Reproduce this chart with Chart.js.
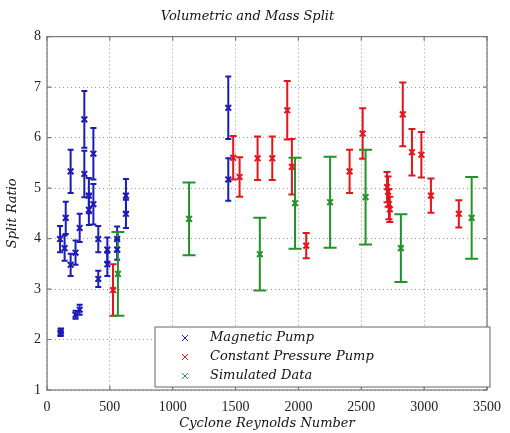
<!DOCTYPE html>
<html>
<head>
<meta charset="utf-8">
<script src="https://cdn.jsdelivr.net/npm/chart.js@4.4.1/dist/chart.umd.min.js"></script>
<style>
  html, body { margin: 0; padding: 0; background: #fff; }
  #wrap { width: 510px; height: 433px; }
</style>
</head>
<body>
<div id="wrap"><canvas id="mycanvas" width="510" height="433"></canvas></div>
<script>
// magnetic pump
var magX   = [108, 110, 104, 140, 149, 188, 188, 227, 227, 260, 260, 297, 297, 333, 333, 369, 369, 408, 408, 480, 480, 558, 558, 628, 628, 1442, 1442];
var magY   = [2.12, 2.17, 3.99, 3.81, 4.41, 5.33, 3.48, 3.72, 2.49, 2.59, 4.21, 6.36, 5.28, 4.85, 4.57, 5.68, 4.68, 3.99, 3.20, 3.78, 3.49, 3.99, 3.78, 4.85, 4.49, 6.59, 5.17];
var magErr = [0.05, 0.05, 0.26, 0.25, 0.32, 0.43, 0.22, 0.24, 0.08, 0.10, 0.28, 0.56, 0.46, 0.35, 0.30, 0.51, 0.40, 0.26, 0.16, 0.24, 0.23, 0.25, 0.20, 0.33, 0.28, 0.62, 0.42];

// constant pressure pump
var cppX   = [525, 1481, 1532, 1675, 1792, 1911, 1948, 2062, 2407, 2511, 2705, 2713, 2720, 2727, 2830, 2903, 2978, 3054, 3276];
var cppY   = [2.98, 5.60, 5.22, 5.59, 5.59, 6.54, 5.42, 3.86, 5.33, 6.08, 5.02, 4.93, 4.68, 4.58, 6.46, 5.71, 5.66, 4.85, 4.49];
var cppErr = [0.51, 0.43, 0.39, 0.43, 0.43, 0.58, 0.55, 0.25, 0.43, 0.50, 0.30, 0.30, 0.30, 0.25, 0.63, 0.46, 0.45, 0.34, 0.27];

// simulated
var simX   = [564, 1130, 1693, 1973, 2252, 2534, 2815, 3378];
var simY   = [3.30, 4.39, 3.69, 4.70, 4.72, 4.82, 3.81, 4.41];
var simErr = [0.83, 0.72, 0.72, 0.90, 0.90, 0.94, 0.67, 0.81];

var xTicks = [0, 500, 1000, 1500, 2000, 2500, 3000, 3500];
var yTicks = [1, 2, 3, 4, 5, 6, 7, 8];

var blue = '#1c1cb4', red = '#e2161c', green = '#24922a';

function pts(xs, ys, es) {
    var out = [];
    for (var i = 0; i < xs.length; i++) out.push({x: xs[i], y: ys[i], e: es[i]});
    return out;
}

var serifIt = "'DejaVu Serif', serif";

var errorBars = {
    id: 'errorBars',
    beforeDatasetsDraw: function(chart) {
        var ctx = chart.ctx, xs = chart.scales.x, ys = chart.scales.y;
        chart.data.datasets.forEach(function(ds) {
            ctx.save();
            ctx.strokeStyle = ds.borderColor;
            ctx.lineWidth = 2;
            ds.data.forEach(function(p) {
                var px = xs.getPixelForValue(p.x);
                var top = ys.getPixelForValue(p.y + p.e);
                var bot = ys.getPixelForValue(p.y - p.e);
                ctx.beginPath();
                ctx.moveTo(px, top); ctx.lineTo(px, bot);
                ctx.moveTo(px - ds.capSize, top); ctx.lineTo(px + ds.capSize, top);
                ctx.moveTo(px - ds.capSize, bot); ctx.lineTo(px + ds.capSize, bot);
                ctx.stroke();
            });
            ctx.restore();
        });
    }
};

var frame = {
    id: 'frame',
    afterDraw: function(chart) {
        var ctx = chart.ctx, a = chart.chartArea, xs = chart.scales.x, ys = chart.scales.y;
        ctx.save();
        ctx.strokeStyle = '#777';
        ctx.lineWidth = 1.2;
        ctx.strokeRect(a.left, a.top, a.right - a.left, a.bottom - a.top);
        // inward ticks like the original
        ctx.beginPath();
        xTicks.forEach(function(v) {
            var px = xs.getPixelForValue(v);
            ctx.moveTo(px, a.top); ctx.lineTo(px, a.top + 4);
            ctx.moveTo(px, a.bottom); ctx.lineTo(px, a.bottom - 4);
        });
        yTicks.forEach(function(v) {
            var py = ys.getPixelForValue(v);
            ctx.moveTo(a.left, py); ctx.lineTo(a.left + 4, py);
            ctx.moveTo(a.right, py); ctx.lineTo(a.right - 4, py);
        });
        ctx.stroke();

        // legend box, lower right
        var bx = 155, by = 327, bw = 335, bh = 60;
        ctx.fillStyle = '#fff';
        ctx.fillRect(bx, by, bw, bh);
        ctx.strokeStyle = '#666';
        ctx.lineWidth = 1;
        ctx.strokeRect(bx, by, bw, bh);
        ctx.font = 'italic 13px ' + serifIt;
        ctx.textBaseline = 'middle';
        chart.data.datasets.forEach(function(ds, i) {
            var ly = by + 11 + i * 19;
            ctx.strokeStyle = ds.borderColor;
            ctx.lineWidth = 1;
            ctx.beginPath();
            ctx.moveTo(182, ly - 3); ctx.lineTo(188, ly + 3);
            ctx.moveTo(188, ly - 3); ctx.lineTo(182, ly + 3);
            ctx.stroke();
            ctx.fillStyle = '#111';
            ctx.fillText(ds.label, 210, ly);
        });
        ctx.restore();
    }
};

var chartdata = {
    datasets: [
        {
            label: 'Magnetic Pump',
            data: pts(magX, magY, magErr),
            borderColor: blue,
            backgroundColor: blue,
            capSize: 3,
            pointStyle: 'crossRot',
            pointRadius: 4,
            pointBorderWidth: 2
        },
        {
            label: 'Constant Pressure Pump',
            data: pts(cppX, cppY, cppErr),
            borderColor: red,
            backgroundColor: red,
            capSize: 3.5,
            pointStyle: 'crossRot',
            pointRadius: 4,
            pointBorderWidth: 2
        },
        {
            label: 'Simulated Data',
            data: pts(simX, simY, simErr),
            borderColor: green,
            backgroundColor: green,
            capSize: 6.5,
            pointStyle: 'crossRot',
            pointRadius: 4,
            pointBorderWidth: 2
        }
    ]
};

var ctx = document.getElementById('mycanvas');

var ScatterGraph = new Chart(ctx, {
    type: 'scatter',
    data: chartdata,
    plugins: [errorBars, frame],
    options: {
        responsive: false,
        animation: false,
        layout: { padding: { left: 0, right: 15, top: 0, bottom: 0 } },
        plugins: {
            legend: { display: false },
            tooltip: { enabled: false },
            title: {
                display: true,
                text: 'Volumetric and Mass Split',
                color: '#111',
                font: { family: serifIt, size: 13, style: 'italic', weight: 'normal' },
                padding: { top: 9, bottom: 12 }
            }
        },
        scales: {
            x: {
                type: 'linear',
                min: 0, max: 3500,
                afterBuildTicks: function(s) { s.ticks = xTicks.map(function(v) { return {value: v}; }); },
                afterFit: function(s) { s.height = 43; },
                ticks: {
                    color: '#222', padding: 9,
                    font: { family: "'Liberation Serif', serif", size: 14 },
                    callback: function(v) { return String(v); }
                },
                grid: { color: '#999', lineWidth: 1, drawTicks: false },
                border: { display: false, dash: [1, 3] },
                title: {
                    display: true,
                    text: 'Cyclone Reynolds Number',
                    color: '#111',
                    font: { family: serifIt, size: 13, style: 'italic' },
                    padding: { top: 0, bottom: 2 }
                }
            },
            y: {
                type: 'linear',
                min: 1, max: 8,
                afterBuildTicks: function(s) { s.ticks = yTicks.map(function(v) { return {value: v}; }); },
                afterFit: function(s) { s.width = 47; },
                ticks: {
                    color: '#222', padding: 6,
                    font: { family: "'Liberation Serif', serif", size: 14 },
                    callback: function(v) { return String(v); }
                },
                grid: { color: '#999', lineWidth: 1, drawTicks: false },
                border: { display: false, dash: [1, 3] },
                title: {
                    display: true,
                    text: 'Split Ratio',
                    color: '#111',
                    font: { family: serifIt, size: 13, style: 'italic' },
                    padding: { top: 5, bottom: 2 }
                }
            }
        }
    }
});
</script>
</body>
</html>
